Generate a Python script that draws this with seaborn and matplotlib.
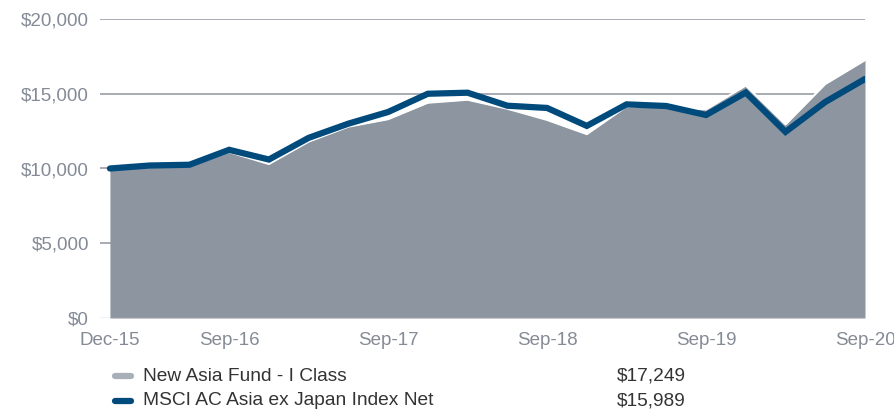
import matplotlib.pyplot as plt
from matplotlib.lines import Line2D
import pandas as pd
import seaborn as sns

# quarterly growth of $10,000, Dec-15 .. Sep-20
quarters = list(range(20))
fund = [10000, 10100, 10150, 11100, 10300, 11800, 12800, 13300, 14400, 14600,
        14000, 13250, 12300, 14150, 14100, 13950, 15550, 12950, 15650, 17249]
index = [10000, 10200, 10250, 11250, 10600, 12050, 13000, 13780, 15000, 15070,
         14200, 14050, 12850, 14290, 14180, 13580, 15080, 12450, 14450, 15989]
tick_pos = [0, 3, 7, 11, 15, 19]
tick_labels = ['Dec-15', 'Sep-16', 'Sep-17', 'Sep-18', 'Sep-19', 'Sep-20']
y_ticks = [0, 5000, 10000, 15000, 20000]
legend_names = ['New Asia Fund - I Class', 'MSCI AC Asia ex Japan Index Net']
legend_values = ['$17,249', '$15,989']

grey_area = '#8c95a0'
grey_key = '#a9afb8'
blue = '#004a7c'
label_grey = '#848b96'

sns.set_style('white')
plt.rcParams['font.family'] = ['Liberation Sans', 'DejaVu Sans']

df = pd.DataFrame({'q': quarters, 'fund': fund, 'index': index})

fig = plt.figure(figsize=(8.95, 4.11), dpi=100)
ax = fig.add_axes([100 / 895, 1 - 318 / 411, 765 / 895, 299 / 411])

# gridlines behind the area
for y in y_ticks[1:]:
    ax.axhline(y, color='#9a9ea6', lw=1.2, zorder=0)

ax.fill_between(df['q'], 0, df['fund'], color=grey_area, lw=0, zorder=1)
sns.lineplot(data=df, x='q', y='fund', color='white', lw=1.5, ax=ax, zorder=2)
sns.lineplot(data=df, x='q', y='index', color=blue, lw=4.5, ax=ax, zorder=3,
             solid_joinstyle='miter')

ax.set_xlim(-0.25, 19)
ax.set_ylim(0, 20000)
ax.set_xticks(tick_pos)
ax.set_xticklabels(tick_labels)
ax.set_xticks(quarters, minor=True)
ax.set_yticks(y_ticks)
ax.set_yticklabels(['${:,.0f}'.format(v) for v in y_ticks])
ax.tick_params(axis='both', labelsize=13.5, colors=label_grey, length=0)
ax.tick_params(axis='y', pad=8)
ax.tick_params(axis='x', pad=10)
ax.tick_params(axis='x', which='minor', direction='in', length=4, width=0.6,
               color='#a5acb5')
ax.set_xlabel('')
ax.set_ylabel('')
for s in ax.spines.values():
    s.set_visible(False)
ax.axhline(0, color='#b4bac2', lw=1, zorder=4)

# custom legend below the plot
for i, (name, val, col) in enumerate(zip(legend_names, legend_values, [grey_key, blue])):
    y = 1 - (376 + 24.5 * i) / 411
    fig.add_artist(Line2D([115 / 895, 131 / 895], [y, y], color=col, lw=4.5,
                          solid_capstyle='round'))
    fig.text(143 / 895, y, name, fontsize=13.8, color='#333333', va='center')
    fig.text(686 / 895, y, val, fontsize=13.8, color='#333333', va='center',
             ha='right')

fig.savefig('out.png', dpi=100)
